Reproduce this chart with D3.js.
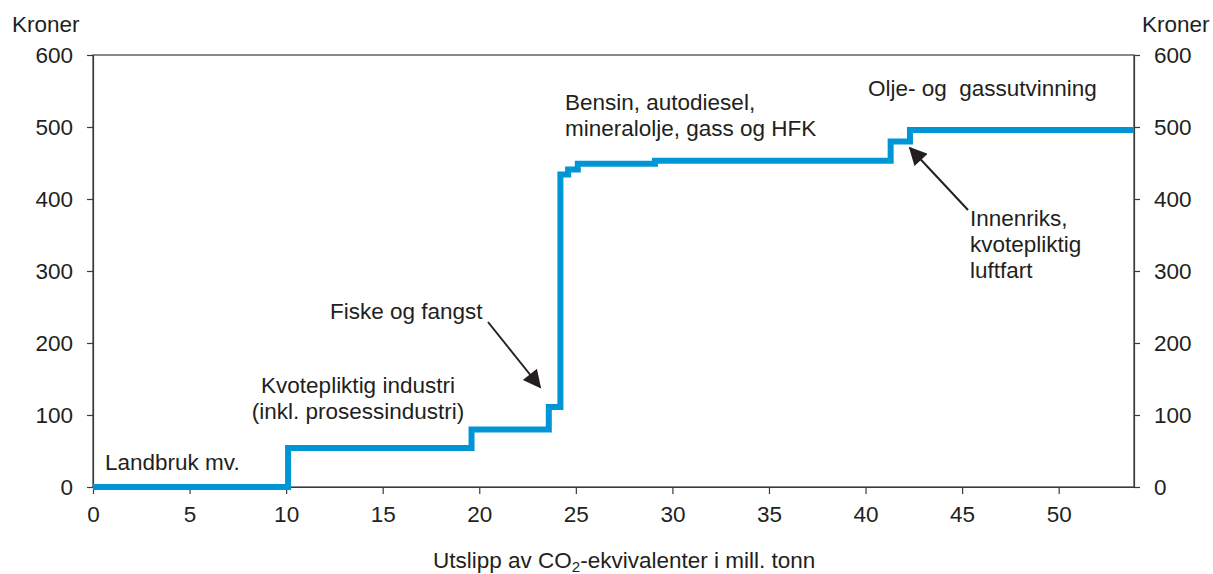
<!DOCTYPE html>
<html>
<head>
<meta charset="utf-8">
<script src="https://cdn.jsdelivr.net/npm/d3@7"></script>
<style>
  body { margin: 0; background: #fff; }
  svg text { font-family: "Liberation Sans", Arial, sans-serif; fill: #231f20; }
</style>
</head>
<body>
<div id="app"></div>
<script>
// step starts (mill. tonn) and price level (kroner) for each step
const stepStart = [0, 10.1, 19.6, 23.6, 24.2, 24.6, 25.1, 29.1, 41.3, 42.3];
const stepValue = [0, 54, 80, 111, 434, 441, 449, 453, 480, 496];
const xEnd = 53.9;
const xTicks = [0, 5, 10, 15, 20, 25, 30, 35, 40, 45, 50];
const yTicks = [0, 100, 200, 300, 400, 500, 600];

const width = 1213;
const height = 574;
const margin = { top: 55, right: 79, bottom: 87, left: 93 };
const fs = 22.5;

const svg = d3.select('#app')
  .append('svg')
  .attr('width', width)
  .attr('height', height);

svg.append('defs').append('marker')
  .attr('id', 'arrow')
  .attr('viewBox', '0 0 10 10')
  .attr('refX', 9).attr('refY', 5)
  .attr('markerWidth', 22).attr('markerHeight', 18)
  .attr('markerUnits', 'userSpaceOnUse')
  .attr('orient', 'auto')
  .append('path')
  .attr('d', 'M0,0 L10,5 L0,10 Z')
  .attr('fill', '#231f20');

const x = d3.scaleLinear()
  .domain([0, xEnd])
  .range([margin.left, width - margin.right]);

const y = d3.scaleLinear()
  .domain([0, 600])
  .range([height - margin.bottom, margin.top]);

// frame
svg.append('rect')
  .attr('x', x(0)).attr('y', y(600))
  .attr('width', x(xEnd) - x(0)).attr('height', y(0) - y(600))
  .attr('fill', 'none').attr('stroke', '#3a3a3a').attr('stroke-width', 1.2);

const styleAxis = g => {
  g.selectAll('.domain').attr('stroke', '#3a3a3a').attr('stroke-width', 1.2);
  g.selectAll('.tick line').attr('stroke', '#3a3a3a').attr('stroke-width', 1.2);
  g.selectAll('.tick text').attr('font-size', fs).attr('fill', '#231f20')
    .style('font-family', '"Liberation Sans", Arial, sans-serif');
};

svg.append('g')
  .attr('transform', `translate(0,${y(0)})`)
  .call(d3.axisBottom(x).tickValues(xTicks).tickSize(7).tickPadding(12).tickSizeOuter(0))
  .call(styleAxis);

svg.append('g')
  .attr('transform', `translate(${x(0)},0)`)
  .call(d3.axisLeft(y).tickValues(yTicks).tickSize(6).tickPadding(14).tickSizeOuter(0))
  .call(styleAxis);

svg.append('g')
  .attr('transform', `translate(${x(xEnd)},0)`)
  .call(d3.axisRight(y).tickValues(yTicks).tickSize(6).tickPadding(14).tickSizeOuter(0))
  .call(styleAxis);

// step line
const pts = stepStart.map((s, i) => [s, stepValue[i]]);
pts.push([xEnd, stepValue[stepValue.length - 1]]);

svg.append('path')
  .datum(pts)
  .attr('d', d3.line().x(d => x(d[0])).y(d => y(d[1])).curve(d3.curveStepAfter))
  .attr('fill', 'none')
  .attr('stroke', '#0096d6')
  .attr('stroke-width', 6)
  .attr('stroke-linejoin', 'miter');

// unit labels
svg.append('text').attr('x', 12).attr('y', 32).attr('font-size', fs).text('Kroner');
svg.append('text').attr('x', 1142).attr('y', 32).attr('font-size', fs).text('Kroner');

// axis title
const xt = svg.append('text').attr('x', 433).attr('y', 568).attr('font-size', fs);
xt.append('tspan').text('Utslipp av CO');
xt.append('tspan').attr('font-size', 15).attr('dy', 4).text('2');
xt.append('tspan').attr('dy', -4).text('-ekvivalenter i mill. tonn');

// annotations
const notes = [
  { x: 105, y: 470, lines: ['Landbruk mv.'], anchor: 'start' },
  { x: 358, y: 393, lines: ['Kvotepliktig industri', '(inkl. prosessindustri)'], anchor: 'middle' },
  { x: 330, y: 319, lines: ['Fiske og fangst'], anchor: 'start' },
  { x: 565, y: 110, lines: ['Bensin, autodiesel,', 'mineralolje, gass og HFK'], anchor: 'start' },
  { x: 868, y: 96, lines: ['Olje- og  gassutvinning'], anchor: 'start' },
  { x: 970, y: 226, lines: ['Innenriks,', 'kvotepliktig', 'luftfart'], anchor: 'start' }
];
notes.forEach(n => {
  const t = svg.append('text')
    .attr('x', n.x).attr('y', n.y)
    .attr('font-size', fs)
    .attr('text-anchor', n.anchor)
    .style('white-space', 'pre');
  n.lines.forEach((l, i) => {
    t.append('tspan').attr('x', n.x).attr('dy', i === 0 ? 0 : 26).text(l);
  });
});

// arrows
const arrows = [
  [[488, 322], [540, 387]],
  [[968, 210], [910, 148]]
];
arrows.forEach(a => {
  svg.append('line')
    .attr('x1', a[0][0]).attr('y1', a[0][1])
    .attr('x2', a[1][0]).attr('y2', a[1][1])
    .attr('stroke', '#231f20').attr('stroke-width', 2)
    .attr('marker-end', 'url(#arrow)');
});
</script>
</body>
</html>
